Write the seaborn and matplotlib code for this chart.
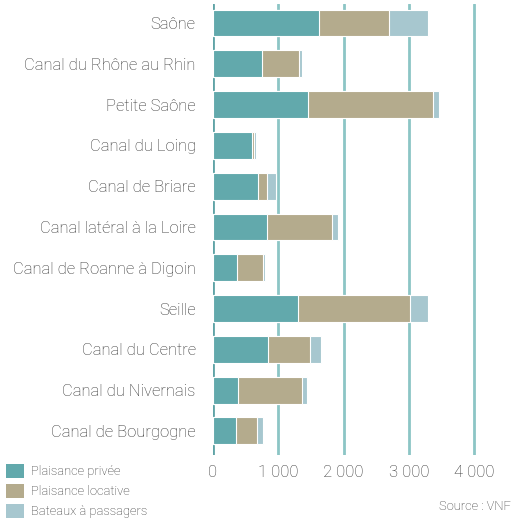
import matplotlib
matplotlib.use("Agg")
import matplotlib.pyplot as plt
import matplotlib.ticker as mticker
from matplotlib.patches import Patch
import numpy as np
import pandas as pd
import seaborn as sns

# Trafic de plaisance par voie navigable
voies = [
    "Saône",
    "Canal du Rhône au Rhin",
    "Petite Saône",
    "Canal du Loing",
    "Canal de Briare",
    "Canal latéral à la Loire",
    "Canal de Roanne à Digoin",
    "Seille",
    "Canal du Centre",
    "Canal du Nivernais",
    "Canal de Bourgogne",
]
plaisance_privee = [1625, 750, 1455, 595, 685, 830, 365, 1305, 840, 385, 350]
plaisance_locative = [1070, 570, 1910, 35, 145, 990, 400, 1710, 645, 975, 325]
bateaux_passagers = [595, 35, 95, 35, 130, 90, 30, 280, 170, 75, 95]

series = ["Plaisance privée", "Plaisance locative", "Bateaux à passagers"]
couleurs = ["#62a9ac", "#b4ab8d", "#a7c7cf"]
graduations = [0, 1000, 2000, 3000, 4000]

texte = "#333333"
sns.set_theme(style="white")
plt.rcParams["font.family"] = ["Roboto", "DejaVu Sans"]
plt.rcParams["font.weight"] = "light"

df = pd.DataFrame({
    "voie": voies,
    "prive": plaisance_privee,
    "locatif": plaisance_locative,
    "passagers": bateaux_passagers,
})
df["c1"] = df["prive"]
df["c2"] = df["c1"] + df["locatif"]
df["c3"] = df["c2"] + df["passagers"]

W, H = 519, 521
fig = plt.figure(figsize=(W / 100, H / 100), dpi=100)
ax = fig.add_axes([213 / W, 1 - 455 / H, (W - 213) / W, (455 - 4) / H])

# Vertical grid lines drawn first so bars sit on top
for g in graduations:
    ax.axvline(g, color="#5fa3a6" if g == 0 else "#8cc5c5", lw=2, zorder=0)

# Stacked bars: cumulative totals drawn from the longest down
for col, c in zip(["c3", "c2", "c1"], couleurs[::-1]):
    sns.barplot(data=df, x=col, y="voie", orient="h", color=c, width=0.66,
                edgecolor="white", linewidth=0.8, saturation=1, ax=ax, zorder=2)

ax.set_xlim(0, (W - 213.3) / 65.25 * 1000)
ax.set_ylim(10.59, -0.466)
ax.set_xticks(graduations)
ax.xaxis.set_major_formatter(mticker.FuncFormatter(lambda v, p: f"{int(v):,}".replace(",", " ")))
ax.set_xlabel("")
ax.set_ylabel("")
ax.tick_params(axis="x", length=0, pad=7, labelsize=12, labelcolor=texte)
ax.tick_params(axis="y", length=0, pad=12.5, labelsize=12, labelcolor=texte)
for sp in ax.spines.values():
    sp.set_visible(False)
ax.grid(False)

handles = [Patch(facecolor=c, edgecolor="none") for c in couleurs]
fig.legend(handles, series, loc="upper left", bbox_to_anchor=(6 / W, 1 - 464 / H),
           frameon=False, fontsize=9.3, handlelength=1.4, handleheight=1.3,
           handletextpad=0.5, labelspacing=0.42, borderpad=0, borderaxespad=0,
           labelcolor=texte)

fig.text(511 / W, 1 - 506 / H, "Source : VNF", ha="right", va="center",
         fontsize=9.3, color=texte)

fig.savefig("out.png", dpi=100)
